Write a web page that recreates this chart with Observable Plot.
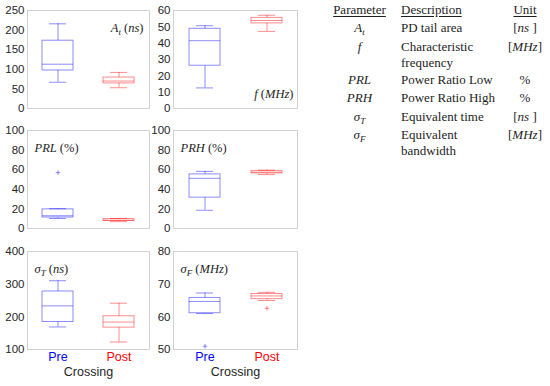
<!DOCTYPE html>
<html><head><meta charset="utf-8">
<script src="https://cdn.jsdelivr.net/npm/d3@7"></script>
<script src="https://cdn.jsdelivr.net/npm/@observablehq/plot@0.6"></script>
<style>
body{margin:0;background:#fff;}
#root{position:relative;width:550px;height:386px;overflow:hidden;background:#fff;}
#root svg{position:absolute;overflow:visible;}
.tb{position:absolute;font-family:"Liberation Serif",serif;font-size:13px;line-height:16px;color:#1e1e1e;white-space:nowrap;}
.tb i sub,.tb sub{font-size:9px;vertical-align:-3px;line-height:0;}
.hd{text-decoration:underline;text-underline-offset:2px;}
</style></head><body><div id="root"></div>
<script>
// ---------- data ----------
const groups = ["Pre", "Post"];
const groupColors = ["#0000ff", "#ff0000"];
// box summaries: [lower whisker, Q1, median, Q3, upper whisker]
const atPre  = [67, 97, 113, 173, 216];
const atPost = [53, 64, 70, 79, 92];
const fPre   = [12.6, 26.2, 41.5, 48.8, 50.7];
const fPost  = [47.2, 52.1, 53.9, 55.5, 57.1];
const prlPre  = [10.2, 11.2, 13, 19.5, 20.2];
const prlPost = [7, 7.6, 8.5, 9.6, 10.3];
const prhPre  = [18.6, 31.5, 51.2, 55.2, 58.3];
const prhPost = [55, 56.2, 57.5, 58.8, 59.5];
const stPre  = [169, 184, 233.5, 277.6, 310.5];
const stPost = [123, 167, 184, 201.7, 241.8];
const sfPre  = [61, 61.1, 64.7, 65.8, 67.3];
const sfPost = [65.0, 65.4, 66.4, 67.0, 67.5];
// outliers
const prlOutPre = [57], prlOutPost = [];
const sfOutPre = [51], sfOutPost = [62.6];
// axes
const atTicks  = [0, 50, 100, 150, 200, 250];
const fTicks   = [0, 10, 20, 30, 40, 50, 60];
const pctTicks = [0, 20, 40, 60, 80, 100];
const stTicks  = [100, 200, 300, 400];
const sfTicks  = [50, 60, 70, 80];
const panelLabels = ["A_t (ns)", "f (MHz)", "PRL (%)", "PRH (%)", "σ_T (ns)", "σ_F (MHz)"];
const xLabel = "Crossing";
// table
const tblHeaders = ["Parameter", "Description", "Unit"];
const tblParams = ["A_t", "f", "PRL", "PRH", "σ_T", "σ_F"];
const tblDescs = ["PD tail area", "Characteristic frequency", "Power Ratio Low", "Power Ratio High", "Equivalent time", "Equivalent bandwidth"];
const tblUnits = ["[ns ]", "[MHz]", "%", "%", "[ns ]", "[MHz]"];

// ---------- helpers ----------
function tokens(s) {
  const out = []; const re = /_([^\s])|([A-Za-zσ]+)|([^A-Za-zσ_]+)/g; let m;
  while ((m = re.exec(s))) {
    if (m[1]) out.push({t: m[1], it: true, sub: true});
    else if (m[2]) out.push({t: m[2], it: true});
    else out.push({t: m[3], it: false});
  }
  return out;
}
function richSvg(el, s) {
  el.textContent = "";
  el.setAttribute("style", "white-space:pre");
  let down = false;
  for (const tk of tokens(s)) {
    const t = document.createElementNS("http://www.w3.org/2000/svg", "tspan");
    t.textContent = tk.t;
    if (tk.it) t.setAttribute("font-style", "italic");
    if (tk.sub) { t.setAttribute("font-size", "9"); t.setAttribute("dy", "3"); down = true; }
    else if (down) { t.setAttribute("dy", "-3"); down = false; }
    el.appendChild(t);
  }
}
function richHtml(s) {
  return tokens(s).map(tk => {
    let h = tk.t;
    if (tk.sub) h = `<sub>${h}</sub>`;
    return tk.it ? `<i>${h}</i>` : h;
  }).join("");
}

const root = document.getElementById("root");

const panels = [
  {stats: [atPre, atPost], outs: [[], []], domain: [0, 250], ticks: atTicks, label: panelLabels[0], anchor: "top-right", dx: -6, dy: 13, ta: "end", left: 0, top: 0, col: 0, bottom: false},
  {stats: [fPre, fPost], outs: [[], []], domain: [0, 60], ticks: fTicks, label: panelLabels[1], anchor: "bottom-right", dx: -4, dy: -11, ta: "end", left: 150, top: 0, col: 1, bottom: false},
  {stats: [prlPre, prlPost], outs: [prlOutPre, prlOutPost], domain: [0, 100], ticks: pctTicks, label: panelLabels[2], anchor: "top-left", dx: 7, dy: 13, ta: "start", left: 0, top: 120, col: 0, bottom: false},
  {stats: [prhPre, prhPost], outs: [[], []], domain: [0, 100], ticks: pctTicks, label: panelLabels[3], anchor: "top-left", dx: 7, dy: 13, ta: "start", left: 150, top: 120, col: 1, bottom: false},
  {stats: [stPre, stPost], outs: [[], []], domain: [100, 400], ticks: stTicks, label: panelLabels[4], anchor: "top-left", dx: 7, dy: 13, ta: "start", left: 0, top: 241, col: 0, bottom: true},
  {stats: [sfPre, sfPost], outs: [sfOutPre, sfOutPost], domain: [50, 80], ticks: sfTicks, label: panelLabels[5], anchor: "top-left", dx: 7, dy: 13, ta: "start", left: 150, top: 241, col: 1, bottom: true}
];

for (const p of panels) {
  const rows = groups.map((g, i) => { const s = p.stats[i]; return {g, lo: s[0], q1: s[1], med: s[2], q3: s[3], hi: s[4]}; });
  const outs = groups.flatMap((g, i) => p.outs[i].map(v => ({g, v})));
  const ml = p.col === 0 ? 27 : 23;
  const w = p.col === 0 ? 152 : 150;
  const mb = p.bottom ? 37 : 10;
  const h = 10 + 98 + mb;
  const lineOpts = {x: "g", stroke: "g", strokeOpacity: 0.5, strokeWidth: 0.9};
  const marks = [
    Plot.frame({stroke: "#d2d2d2"}),
    Plot.ruleX(rows, {...lineOpts, y1: "lo", y2: "q1"}),
    Plot.ruleX(rows, {...lineOpts, y1: "q3", y2: "hi"}),
    Plot.barY(rows, {...lineOpts, y1: "q1", y2: "q3", fill: "none"}),
    Plot.tickY(rows, {...lineOpts, y: "med"}),
    Plot.tickY(rows, {...lineOpts, y: "lo", insetLeft: 7, insetRight: 7}),
    Plot.tickY(rows, {...lineOpts, y: "hi", insetLeft: 7, insetRight: 7}),
    Plot.dot(outs, {x: "g", y: "v", symbol: "plus", r: 1.6, stroke: "g", strokeOpacity: 0.5, strokeWidth: 0.9}),
    Plot.text([p.label], {text: d => d, frameAnchor: p.anchor, dx: p.dx, dy: p.dy, textAnchor: p.ta, fontFamily: "Liberation Serif, serif", fontSize: 12.5, fill: "#1e1e1e"})
  ];
  if (p.bottom) {
    marks.push(Plot.text(groups, {x: d => d, text: d => d, fill: d => d, frameAnchor: "bottom", dy: 11, fontSize: 12.5}));
    marks.push(Plot.text([xLabel], {text: d => d, frameAnchor: "bottom", dy: 26, fontSize: 12.5, fill: "#1e1e1e"}));
  }
  const svg = Plot.plot({
    width: w, height: h, marginLeft: ml, marginRight: 3, marginTop: 10, marginBottom: mb,
    style: {fontFamily: "Liberation Sans, Arial, sans-serif", fontSize: "11.5px", color: "#262626", background: "transparent", overflow: "visible"},
    x: {type: "band", domain: groups, paddingInner: 0.5, paddingOuter: 0.25, axis: null},
    y: {domain: p.domain, ticks: p.ticks, tickSize: 0, tickPadding: 3, label: null},
    color: {domain: groups, range: groupColors},
    marks
  });
  svg.style.left = p.left + "px";
  svg.style.top = p.top + "px";
  root.appendChild(svg);
  d3.select(svg).selectAll("text").filter(function () { return this.textContent === p.label; })
    .each(function () { richSvg(this, p.label); });
}

// ---------- table ----------
function addDiv(html, x, y, align) {
  const d = document.createElement("div");
  d.className = "tb";
  d.innerHTML = html;
  d.style.top = (y - 8) + "px";
  if (align === "center") { d.style.left = (x - 60) + "px"; d.style.width = "120px"; d.style.textAlign = "center"; }
  else d.style.left = x + "px";
  root.appendChild(d);
  return d;
}
const colParam = 359.5, colDesc = 401, colUnit = 525;
addDiv(`<span class="hd">${tblHeaders[0]}</span>`, colParam, 10, "center");
addDiv(`<span class="hd">${tblHeaders[1]}</span>`, colDesc, 10);
addDiv(`<span class="hd">${tblHeaders[2]}</span>`, colUnit, 10, "center");
const rowY = [28, 47, 80, 98, 117, 135];
tblParams.forEach((pm, i) => {
  const y = rowY[i];
  addDiv(richHtml(pm), colParam, y, "center");
  const d = addDiv(tblDescs[i], colDesc, y);
  d.style.whiteSpace = "normal"; d.style.width = "100px";
  const u = tblUnits[i].replace(/[A-Za-z]+/g, m => `<i>${m}</i>`);
  addDiv(u, colUnit, y, "center");
});
</script></body></html>
